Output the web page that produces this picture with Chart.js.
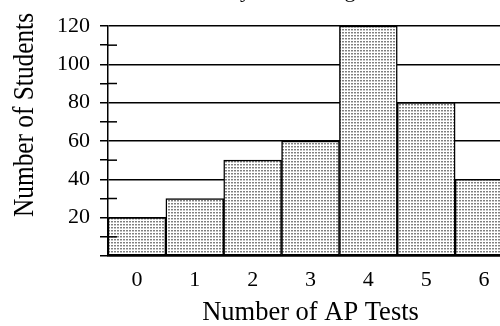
<!DOCTYPE html>
<html>
<head>
<meta charset="utf-8">
<script src="https://cdn.jsdelivr.net/npm/chart.js@4.4.1/dist/chart.umd.min.js"></script>
<style>
  html, body { margin: 0; padding: 0; background: #fff; overflow: hidden; width: 500px; height: 326px; }
  #wrap { position: absolute; left: 0; top: -22px; width: 520px; height: 348px; }
</style>
</head>
<body>
<div id="wrap"><canvas id="chart" width="520" height="348"></canvas></div>
<script>
const testCounts = ["0", "1", "2", "3", "4", "5", "6"]
const students = [20, 30, 50, 60, 120, 80, 40]
const yMin = 0
const yMax = 120
const yStep = 10
const yLabelEvery = 20

const serif = "'Liberation Serif', 'Times New Roman', serif"

function stipple(ctx) {
  const tile = document.createElement("canvas")
  tile.width = 3
  tile.height = 3
  const g = tile.getContext("2d")
  g.fillStyle = "#fff"
  g.fillRect(0, 0, 3, 3)
  g.fillStyle = "#808080"
  g.fillRect(0, 0, 2, 1)
  g.fillStyle = "#c6c6c6"
  g.fillRect(0, 1, 2, 1)
  return ctx.createPattern(tile, "repeat")
}

// short ticks that cross into the plot at the odd tens
const minorTicks = {
  id: "minorTicks",
  afterDatasetsDraw(chart) {
    const { ctx, chartArea } = chart
    const y = chart.scales.y
    ctx.save()
    ctx.strokeStyle = "#000"
    ctx.lineWidth = 1.5
    y.ticks.forEach((t) => {
      if (t.value % yLabelEvery === 0) return
      const py = y.getPixelForValue(t.value)
      ctx.beginPath()
      ctx.moveTo(chartArea.left, py)
      ctx.lineTo(chartArea.left + 9, py)
      ctx.stroke()
    })
    ctx.restore()
  }
}

// narrow, tall y title like the scanned original
const yTitle = {
  id: "yTitle",
  afterDraw(chart) {
    const ctx = chart.ctx
    const text = "Number of Students"
    ctx.save()
    ctx.font = "30px " + serif
    const w = ctx.measureText(text).width
    ctx.translate(33, 137)
    ctx.rotate(-Math.PI / 2)
    ctx.scale(204 / w, 1)
    ctx.fillStyle = "#000"
    ctx.textAlign = "center"
    ctx.textBaseline = "alphabetic"
    ctx.fillText(text, 0, 0)
    ctx.restore()
  }
}

const canvas = document.getElementById("chart")
const ctx2d = canvas.getContext("2d")

new Chart(canvas, {
  type: "bar",
  data: {
    labels: testCounts,
    datasets: [{
      data: students,
      backgroundColor: stipple(ctx2d),
      borderColor: "#000",
      borderWidth: 1.5,
      borderSkipped: false,
      categoryPercentage: 1,
      barPercentage: 1
    }]
  },
  options: {
    responsive: false,
    animation: false,
    devicePixelRatio: 1,
    layout: { padding: { top: 0, right: 7, bottom: 0, left: 0 } },
    plugins: {
      legend: { display: false },
      tooltip: { enabled: false },
      title: {
        display: true,
        text: "AP Tests Taken by Graduating Seniors",
        color: "#000",
        font: { family: serif, size: 22, weight: "normal", lineHeight: 1.2 },
        padding: { top: 0, bottom: 21.6 }
      }
    },
    scales: {
      x: {
        grid: { display: false, drawTicks: false },
        border: { display: true, color: "#000", width: 1.5 },
        ticks: { color: "#000", font: { family: serif, size: 22 }, padding: 11 },
        title: {
          display: true,
          text: "Number of AP Tests",
          color: "#000",
          font: { family: serif, size: 26.5, lineHeight: 1 },
          padding: 0
        },
        afterFit(scale) { scale.height = 70 }
      },
      y: {
        min: yMin,
        max: yMax,
        ticks: {
          stepSize: yStep,
          autoSkip: false,
          color: "#000",
          font: { family: serif, size: 22 },
          padding: 10,
          callback: (v) => (v % yLabelEvery === 0 && v > 0 ? v : "")
        },
        grid: {
          color: (c) => (c.tick && c.tick.value % yLabelEvery === 0 ? "#000" : "rgba(0,0,0,0)"),
          tickColor: "#000",
          tickLength: 8,
          lineWidth: 1.5
        },
        border: { color: "#000", width: 1.5 },
        afterFit(scale) { scale.width = 108 }
      }
    }
  },
  plugins: [minorTicks, yTitle]
})
</script>
</body>
</html>
